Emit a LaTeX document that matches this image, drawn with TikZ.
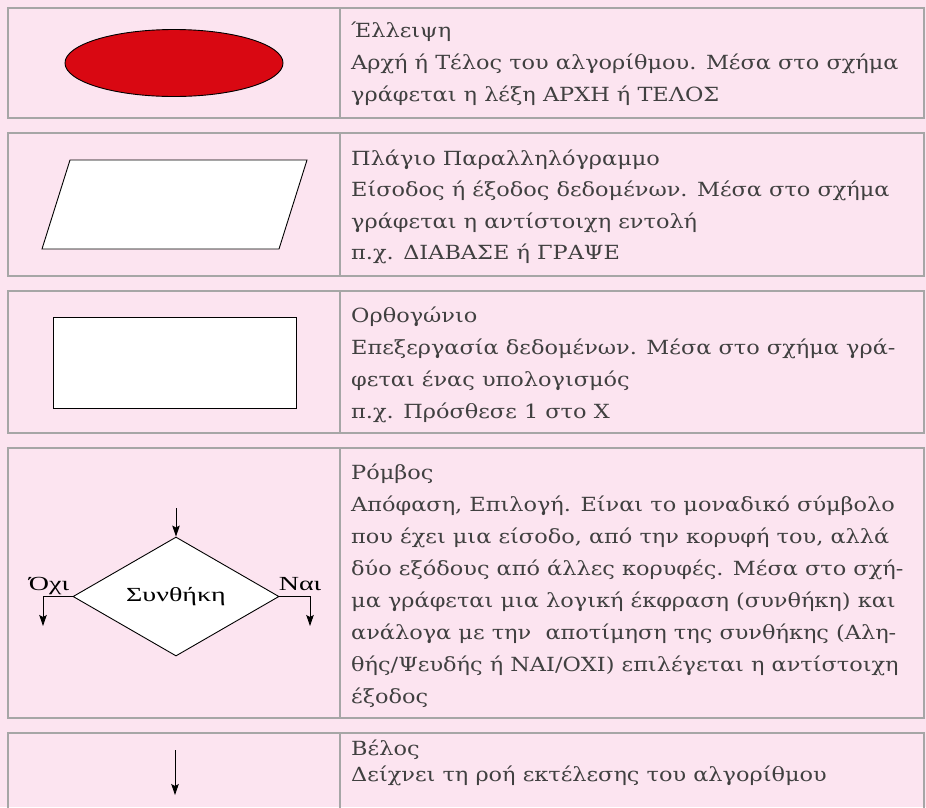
\documentclass[tikz,border=0pt]{standalone}
\usepackage{fontspec}
\setmainfont{Liberation Serif}
\newfontfamily\descfont{DejaVu Serif}[FakeStretch=1.15]
\newfontfamily\labelfont{Liberation Serif}[FakeStretch=1.4]
\usetikzlibrary{positioning, shapes.geometric, arrows.meta}
\definecolor{rowpink}{RGB}{252,228,240}
\definecolor{rowline}{RGB}{166,166,166}
\definecolor{startred}{RGB}{217,8,18}
\definecolor{descgray}{RGB}{64,64,64}
\newcommand{\descstrut}{\rule{0pt}{22pt}}

\begin{document}
\begin{tikzpicture}[x=1pt, y=-1pt,
      row/.style = {draw=rowline, line width=1.2pt},
   symbol/.style = {draw=black, fill=white, line width=0.9pt, inner sep=0pt},
    descr/.style = {anchor=north west, align=left, inner sep=0pt, text=descgray,
                    font=\descfont\fontsize{19.5}{32}\selectfont},
      lbl/.style = {inner sep=0pt, font=\labelfont\fontsize{20}{22}\selectfont},
     flow/.style = {-{Stealth[length=11pt, width=7.5pt, inset=2pt]}, line width=0.9pt}
                    ]
\useasboundingbox (0,0) rectangle (926,807);
\fill[rowpink] (0,0) rectangle (926,807);
% rows of the table
\foreach \top/\bot in {8/118, 133/276, 291/433, 448/718, 733/840}
  \draw[row] (8,\top) rectangle (924,\bot) (340,\top) -- (340,\bot);
% symbols
\node (start)[symbol, ellipse, fill=startred, minimum width=218pt, minimum height=67pt] at (174,63) {};
\draw[symbol] (70,160) -- (307,160) -- (279,249) -- (42,249) -- cycle;
\node (process)[symbol, minimum width=243pt, minimum height=91pt] at (174.5,362.5) {};
\node (cond)[symbol, diamond, minimum width=206pt, minimum height=119pt,
             font=\labelfont\fontsize{20}{22}\selectfont] at (176,596.5) {Συνθήκη};
\coordinate (condin) at (176,508);
\coordinate (noend) at (43,626);
\coordinate (yesend) at (310,626);
\draw[flow] (condin) to (cond.north);
\draw[flow] (cond.west) -| (noend);
\draw[flow] (cond.east) -| (yesend);
\node (no)[lbl, anchor=base] at (49,590) {Όχι};
\node (yes)[lbl, anchor=base] at (300,590) {Ναι};
\coordinate (flowtop) at (175,750);
\coordinate (flowbot) at (175,795);
\draw[flow] (flowtop) to (flowbot);
% descriptions
\node (ellipsetext)[descr] at (351,15) {\descstrut Έλλειψη\\
  Αρχή ή Τέλος του αλγορίθμου. Μέσα στο σχήμα\\
  γράφεται η λέξη ΑΡΧΗ ή ΤΕΛΟΣ};
\node (paratext)[descr, font=\descfont\fontsize{19.5}{31.5}\selectfont] at (351,143) {\descstrut Πλάγιο Παραλληλόγραμμο\\
  Είσοδος ή έξοδος δεδομένων. Μέσα στο σχήμα\\
  γράφεται η αντίστοιχη εντολή\\
  π.χ. ΔΙΑΒΑΣΕ ή ΓΡΑΨΕ};
\node (processtext)[descr] at (351,300) {\descstrut Ορθογώνιο\\
  Επεξεργασία δεδομένων. Μέσα στο σχήμα γρά-\\
  φεται ένας υπολογισμός\\
  π.χ. Πρόσθεσε 1 στο Χ};
\node (condtext)[descr] at (351,457) {\descstrut Ρόμβος\\
  Απόφαση, Επιλογή. Είναι το μοναδικό σύμβολο\\
  που έχει μια είσοδο, από την κορυφή του, αλλά\\
  δύο εξόδους από άλλες κορυφές. Μέσα στο σχή-\\
  μα γράφεται μια λογική έκφραση (συνθήκη) και\\
  ανάλογα με την~ αποτίμηση της συνθήκης (Αλη-\\
  θής/Ψευδής ή ΝΑΙ/ΟΧΙ) επιλέγεται η αντίστοιχη\\
  έξοδος};
\node (flowtext)[descr, font=\descfont\fontsize{19.5}{26}\selectfont] at (351,733) {\descstrut Βέλος\\
  Δείχνει τη ροή εκτέλεσης του αλγορίθμου};
\end{tikzpicture}
\end{document}
